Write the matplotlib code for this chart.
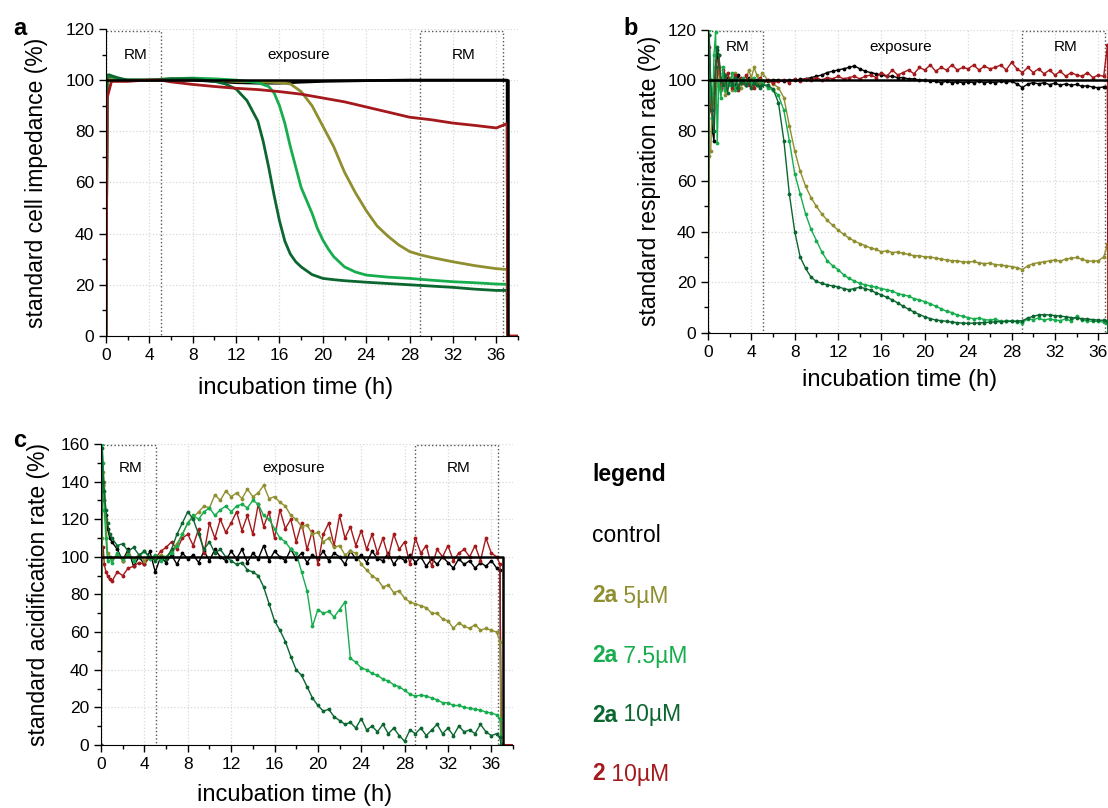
import numpy as np
import matplotlib
matplotlib.use('Agg')
import matplotlib.pyplot as plt
from matplotlib.ticker import MultipleLocator

plt.rcParams['font.family'] = ['Liberation Sans', 'DejaVu Sans']

# colours
C_CTRL = '#000000'
C_5 = '#8f8f30'
C_75 = '#17ad4e'
C_10 = '#0b6630'
C_RED = '#a3191c'

# ---------------- panel a: cell impedance ----------------
a_t_ctrl = [0, 0.1, 0.5, 1, 2, 4, 6, 8, 10, 12, 14, 16, 18, 20, 24, 28, 32, 36, 37, 37.05]
a_v_ctrl = [0, 101, 100.5, 100, 100, 100, 100, 100, 99.5, 99, 98.8, 98.8, 99.2, 99.5, 99.8, 100, 100, 100, 100, 0]

a_t_5 = [0, 0.1, 0.3, 1, 2, 4, 6, 8, 10, 12, 14, 16, 17, 18, 19, 20, 21, 22, 23, 24, 25, 26, 27, 28, 29, 30, 32, 34, 36, 37, 37.05]
a_v_5 = [0, 98, 100.5, 100, 100, 100, 100.5, 100.3, 100, 99.5, 99.3, 99, 98.5, 95.5, 90, 82, 74, 64, 56, 49, 43, 39, 35.6, 33, 31.7, 30.7, 29, 27.5, 26.3, 26, 0]

a_t_75 = [0, 0.1, 0.3, 1, 2, 4, 6, 8, 10, 12, 13, 14, 15, 15.5, 16, 16.5, 17, 17.5, 18, 18.5, 19, 19.5, 20, 20.5, 21, 22, 23, 24, 26, 28, 30, 32, 34, 36, 37, 37.05]
a_v_75 = [0, 101, 102, 100.5, 100, 100, 100.5, 100.8, 100.5, 100, 99.5, 99, 97.5, 95, 90, 83, 74, 66, 58, 53, 48, 42, 37.5, 34, 31, 27, 25, 23.8, 23, 22.5, 21.8, 21.2, 20.8, 20.3, 20.2, 0]

a_t_10 = [0, 0.1, 0.3, 1, 2, 4, 6, 8, 10, 11, 12, 13, 13.5, 14, 14.5, 15, 15.5, 16, 16.5, 17, 17.5, 18, 19, 20, 21, 22, 24, 26, 28, 30, 32, 34, 36, 37, 37.05]
a_v_10 = [0, 102, 102, 101, 100, 100, 100.5, 100.5, 99.5, 98.5, 96.5, 92, 88, 84, 76, 66, 55, 45, 37, 32, 29, 27, 24, 22.5, 22, 21.6, 21, 20.5, 20, 19.5, 19, 18.3, 17.8, 17.8, 0]

a_t_red = [0, 0.1, 0.5, 1, 2, 3, 4, 5, 6, 8, 10, 12, 14, 16, 18, 20, 22, 24, 26, 28, 30, 32, 34, 36, 37, 37.05, 38]
a_v_red = [0, 93, 99.5, 99.5, 99.5, 99.8, 100, 100, 99.3, 98.3, 97.5, 96.8, 96.3, 95.5, 94.5, 93, 91.5, 89.5, 87.5, 85.5, 84.5, 83.2, 82.3, 81.3, 83, 0, 0]

# ---------------- panel b: respiration rate ----------------
b_t = [0, 0.1, 0.25, 0.4, 0.55, 0.7, 0.85, 1.0, 1.2, 1.4, 1.6, 1.8, 2.0, 2.25, 2.5, 2.75,
       3.0, 3.25, 3.5, 3.75, 4.0, 4.25, 4.5, 4.75, 5.0, 5.5, 6.0,
       6.5, 7, 7.5, 8, 8.5, 9, 9.5, 10, 10.5, 11, 11.5, 12, 12.5, 13, 13.5, 14, 14.5, 15, 15.5, 16,
       16.5, 17, 17.5, 18, 18.5, 19, 19.5, 20, 20.5, 21, 21.5, 22, 22.5, 23, 23.5, 24, 24.5, 25, 25.5, 26,
       26.5, 27, 27.5, 28, 28.5, 29, 29.5, 30, 30.5, 31, 31.5, 32, 32.5, 33, 33.5, 34, 34.5, 35, 35.5, 36,
       36.5, 36.85, 36.9]

b_ctrl = [0, 118, 95, 80, 76, 100, 112, 105, 98, 103, 97, 101, 99, 100, 97, 102,
          99, 100, 98, 101, 100, 99, 100, 98, 99, 99.5, 100,
          100, 99.5, 100, 100, 100.3, 100.5, 101, 101.5, 102, 103, 103.5, 104, 104.5, 105, 105.6, 104.5, 103.5, 103, 102.5, 102,
          101.5, 101.5, 101, 101, 100.5, 100.5, 100, 100, 99.5, 99.5, 99, 99.5, 99, 99.3, 99, 99.3, 99, 99.5, 99, 99.3,
          99, 99.5, 99.2, 99.5, 98.5, 97, 98.5, 99, 98.5, 99, 98.2, 98.8, 98, 98.5, 98, 98.3, 97.5, 97.8, 97.2, 97,
          97.3, 97.2, 0]

b_red = [0, 113, 88, 85, 95, 108, 100, 110, 97, 104, 98, 103, 100, 97, 102, 96,
         101, 99, 102, 98, 100, 97, 99, 101, 99, 100, 99,
         99.5, 100, 99, 100.5, 99.5, 100.5, 100, 101, 100, 101, 100.5, 101.5, 100.5, 101, 101.5, 100.5, 101.5, 102, 101, 103,
         101.5, 104, 102, 103, 104, 102.5, 105, 104, 106, 103.5, 105, 104, 106, 104, 105, 104.5, 106, 104, 105.5, 104.5,
         105, 106, 104, 107, 104.5, 103, 105, 103, 104.5, 102.5, 104, 102, 103.5, 101.5, 103, 102, 101.5, 103, 101, 102,
         101.5, 114, 0]

b_5 = [0, 70, 72, 95, 100, 90, 98, 105, 96, 101, 94, 99, 101, 96, 103, 98,
       97, 100, 99, 104, 101, 105, 102, 99, 103, 100, 98.5,
       97, 93, 82, 72, 64, 58, 53.5, 50, 47, 44.5, 42.5, 40.6, 39, 37.5, 36.3, 35.3, 34.5, 33.5, 33, 32,
       32.5, 31.7, 32, 31.4, 31, 30.5, 30.5, 30, 30, 29.5, 29.2, 28.8, 28.5, 28.5, 28, 28, 28.2, 27.6, 27.4, 27.5,
       27, 26.8, 26.5, 26.2, 25.8, 25, 26.5, 27.3, 27.8, 28, 28.5, 28.8, 28.3, 29.2, 29.5, 29.8, 29, 28.5, 28.3, 28.5,
       30, 35, 0]

b_75 = [0, 120, 95, 85, 110, 119, 75, 100, 93, 105, 96, 100, 98, 103, 96, 100,
        99, 101, 98, 100, 99, 101, 98, 100, 99, 97, 96,
        94, 88, 76, 63, 55, 47, 41, 36.5, 32, 28.5, 26.5, 25, 23, 21.5, 20.5, 19.5, 19, 18.5, 18, 17.5,
        17, 16.5, 15.5, 15, 14.5, 13.5, 13, 12.3, 11.5, 10.5, 9.5, 8.5, 8, 7, 6.5, 6, 5.5, 5.8, 5.2, 5,
        5.3, 4.6, 4.5, 4.8, 4.3, 4, 5.5, 5.2, 5.8, 5, 5.5, 5, 4.8, 5.5, 4.6, 6.5, 5, 4.7, 4.5, 4.5,
        4.2, 4, 0]

b_10 = [0, 118, 100, 88, 80, 105, 113, 110, 100, 98, 102, 95, 100, 98, 101, 97,
        99, 100, 98, 100, 97, 99, 98, 97, 98, 98, 96.5,
        91, 76, 55, 40, 30, 25.5, 22, 20.3, 19.5, 19, 18.5, 18.2, 17.5, 17, 17.5, 18, 17.5, 16.8, 15.8, 15,
        14, 13, 11.8, 10.5, 9.3, 8.2, 7.2, 6.3, 5.6, 5, 4.8, 4.5, 4.2, 4, 3.8, 3.7, 3.8, 3.9, 4, 4.2,
        4.3, 4.4, 4.5, 4.5, 4.6, 4.8, 5.8, 6.5, 7, 7.2, 7, 6.8, 6.6, 6.3, 6, 5.8, 5.6, 5.4, 5.2, 5,
        4.9, 4.8, 0]

# ---------------- panel c: acidification rate ----------------
c_t = [0, 0.1, 0.2, 0.3, 0.45, 0.6, 0.8,
       1, 1.5, 2, 2.5, 3, 3.5, 4, 4.5, 5, 5.5, 6, 6.5, 7, 7.5, 8, 8.5, 9, 9.5, 10, 10.5, 11, 11.5, 12, 12.5,
       13, 13.5, 14, 14.5, 15, 15.5, 16, 16.5, 17, 17.5, 18, 18.5, 19, 19.5, 20, 20.5, 21, 21.5, 22, 22.5, 23, 23.5,
       24, 24.5, 25, 25.5, 26, 26.5, 27, 27.5, 28, 28.5, 29, 29.5, 30, 30.5, 31, 31.5, 32, 32.5, 33, 33.5, 34, 34.5,
       35, 35.5, 36, 36.5, 36.8, 36.9]

c_ctrl = [0, 140, 138, 130, 122, 115, 110,
          108, 104, 98, 104, 95, 100, 96, 103, 92, 100, 97, 101, 96, 102, 99, 101, 97, 103, 98, 104, 100, 98, 103, 99,
          104, 97, 102, 99, 106, 98, 103, 100, 98, 104, 99, 102, 97, 101, 99, 103, 98, 102, 100, 96, 103, 99,
          101, 97, 103, 99, 98, 102, 96, 100, 98, 101, 97, 100, 95, 99, 96, 100, 97, 94, 99, 96, 98, 94,
          97, 95, 98, 94, 93, 0]

c_5 = [0, 110, 145, 140, 120, 102, 100,
       99, 101, 98, 102, 99, 101, 98, 100, 99, 101, 100, 103, 107, 112, 118, 121, 124, 127, 126, 133, 130, 135, 132, 134,
       131, 136, 132, 134, 138, 131, 132, 129, 127, 122, 120, 116, 117, 112, 113, 108, 110, 105, 106, 101, 103, 102,
       96, 93, 90, 88, 84, 85, 81, 82, 78, 76, 75, 74, 73, 70, 70, 67, 66, 62, 65, 63, 62, 64,
       61, 62, 61, 60, 55, 0]

c_75 = [0, 160, 150, 125, 110, 98, 100,
        97, 102, 99, 101, 98, 100, 103, 99, 101, 98, 100, 102, 106, 112, 118, 122, 120, 124, 126, 122, 125, 127, 124, 127,
        128, 126, 130, 128, 122, 120, 115, 110, 108, 104, 102, 92, 82, 63, 72, 70, 71, 68, 72, 76, 46, 44,
        41, 40, 38, 37, 35, 34, 32, 31, 29, 27, 26, 26.5, 26, 25, 24, 22.5, 22.5, 21, 21, 20, 19.5, 19,
        18.5, 17.5, 17, 16, 14, 0]

c_10 = [0, 158, 140, 135, 125, 118, 112,
        110, 106, 107, 103, 105, 101, 103, 100, 98, 100, 99, 104, 112, 118, 124, 120, 112, 104, 108, 102, 104, 100, 98, 96,
        97, 93, 92, 90, 84, 75, 66, 61, 55, 47, 40, 37, 31, 25, 21, 18, 19, 15, 13, 11, 12, 9,
        14, 8, 10, 7, 11, 6, 9, 5, 2, 8, 6, 9, 5, 8, 11, 6, 9, 5, 10, 7, 8, 6,
        11, 7, 5, 6, 4, 0]

c_red = [0, 100, 105, 96, 92, 90, 88,
         87, 92, 90, 94, 95, 97, 96, 100, 99, 103, 105, 108, 104, 110, 112, 106, 115, 102, 118, 110, 120, 113, 118, 124,
         114, 122, 112, 128, 116, 124, 110, 125, 115, 120, 108, 118, 104, 114, 96, 112, 118, 106, 122, 110, 116, 106,
         114, 104, 112, 102, 110, 100, 112, 104, 108, 96, 110, 102, 106, 95, 104, 100, 106, 98, 102, 104, 100, 106,
         98, 110, 102, 100, 96, 0]
c_red_tail_t = [36.9, 38]
c_red_tail_v = [0, 0]

# control baselines (flat 100 % reference)
ref_t = [0, 37.05, 37.05]
ref_v = [100, 100, 0]

# dotted RM boxes (start, end) in h
rm_boxes = [(0, 5.1), (29.0, 36.6)]

fig = plt.figure(figsize=(11.08, 8.08), dpi=100)
ax_a = fig.add_axes([0.0957, 0.5842, 0.3718, 0.380])
ax_b = fig.add_axes([0.639, 0.5882, 0.3718, 0.3752])
ax_c = fig.add_axes([0.0912, 0.0780, 0.3718, 0.3725])


def style_axis(ax, ymax, ystep, ylabel, ylab_x, xlab_x, xlab_y, box_top, text_y):
    ax.set_xlim(0, 38)
    ax.set_ylim(0, ymax)
    ax.xaxis.set_major_locator(MultipleLocator(4))
    ax.xaxis.set_minor_locator(MultipleLocator(2))
    ax.yaxis.set_major_locator(MultipleLocator(ystep))
    ax.yaxis.set_minor_locator(MultipleLocator(ystep / 2))
    ax.tick_params(which='major', direction='out', length=5, width=1, labelsize=12.5)
    ax.tick_params(which='minor', direction='out', length=3, width=1)
    for s in ['top', 'right']:
        ax.spines[s].set_visible(False)
    ax.grid(True, which='major', color='#d8d8d8', linestyle=':', linewidth=0.9)
    ax.set_axisbelow(True)
    ax.set_ylabel(ylabel, fontsize=16.5)
    ax.yaxis.set_label_coords(ylab_x, 0.5)
    ax.set_xlabel('incubation time (h)', fontsize=17)
    ax.xaxis.set_label_coords(xlab_x, xlab_y)
    for x0, x1 in rm_boxes:
        ax.plot([x0, x0, x1, x1], [0, box_top, box_top, 0], color='#555555',
                linestyle=':', linewidth=1, zorder=1)
    ax.text(2.7, text_y, 'RM', fontsize=11, ha='center', va='center')
    ax.text(17.8, text_y, 'exposure', fontsize=11, ha='center', va='center')
    ax.text(33.0, text_y, 'RM', fontsize=11, ha='center', va='center')
    ax.plot(ref_t, ref_v, color='black', linewidth=1.8, zorder=6)


# panel a
style_axis(ax_a, 120, 20, 'standard cell impedance (%)', -0.14, 0.46, -0.135, 119, 110)
ax_a.plot(a_t_ctrl, a_v_ctrl, color=C_CTRL, lw=2)
ax_a.plot(a_t_5, a_v_5, color=C_5, lw=2)
ax_a.plot(a_t_75, a_v_75, color=C_75, lw=2)
ax_a.plot(a_t_10, a_v_10, color=C_10, lw=2)
ax_a.plot(a_t_red, a_v_red, color=C_RED, lw=2)

# panel b
style_axis(ax_b, 120, 20, 'standard respiration rate (%)', -0.115, 0.466, -0.12, 119.5, 113)
mk = dict(marker='.', markersize=3.5, linewidth=1)
ax_b.plot(b_t, b_ctrl, color=C_CTRL, **mk)
ax_b.plot(b_t, b_5, color=C_5, **mk)
ax_b.plot(b_t, b_red, color=C_RED, **mk)
ax_b.plot(b_t, b_75, color=C_75, **mk)
ax_b.plot(b_t, b_10, color=C_10, **mk)

# panel c
style_axis(ax_c, 160, 20, 'standard acidification rate (%)', -0.125, 0.47, -0.13, 159.5, 147)
ax_c.plot(c_t, c_ctrl, color=C_CTRL, **mk)
ax_c.plot(c_t, c_red, color=C_RED, **mk)
ax_c.plot(c_red_tail_t, c_red_tail_v, color=C_RED, lw=1.5)
ax_c.plot(c_t, c_5, color=C_5, **mk)
ax_c.plot(c_t, c_75, color=C_75, **mk)
ax_c.plot(c_t, c_10, color=C_10, **mk)

# panel letters
fig.text(0.012, 0.965, 'a', fontsize=17, fontweight='bold', va='center')
fig.text(0.563, 0.965, 'b', fontsize=17, fontweight='bold', va='center')
fig.text(0.012, 0.455, 'c', fontsize=17, fontweight='bold', va='center')

# text legend
leg_items = [('control', '', C_CTRL), ('2a', ' 5µM', C_5), ('2a', ' 7.5µM', C_75),
             ('2a', ' 10µM', C_10), ('2', ' 10µM', C_RED)]
leg_x = 592 / 1108
fig.text(leg_x, 1 - 475 / 808, 'legend', fontsize=16.5, fontweight='bold', va='center')
leg_y = [535, 596, 656, 715, 774]
for (bold, rest, col), yy in zip(leg_items, leg_y):
    y = 1 - yy / 808
    if rest == '':
        fig.text(leg_x, y, bold, fontsize=16.5, color=col, va='center')
    else:
        t = fig.text(leg_x, y, bold, fontsize=16.5, fontweight='bold', color=col, va='center')
        fig.canvas.draw()
        bb = t.get_window_extent()
        fig.text(bb.x1 / fig.bbox.width, y, rest, fontsize=16.5, color=col, va='center')

fig.savefig('out.png', dpi=100)
